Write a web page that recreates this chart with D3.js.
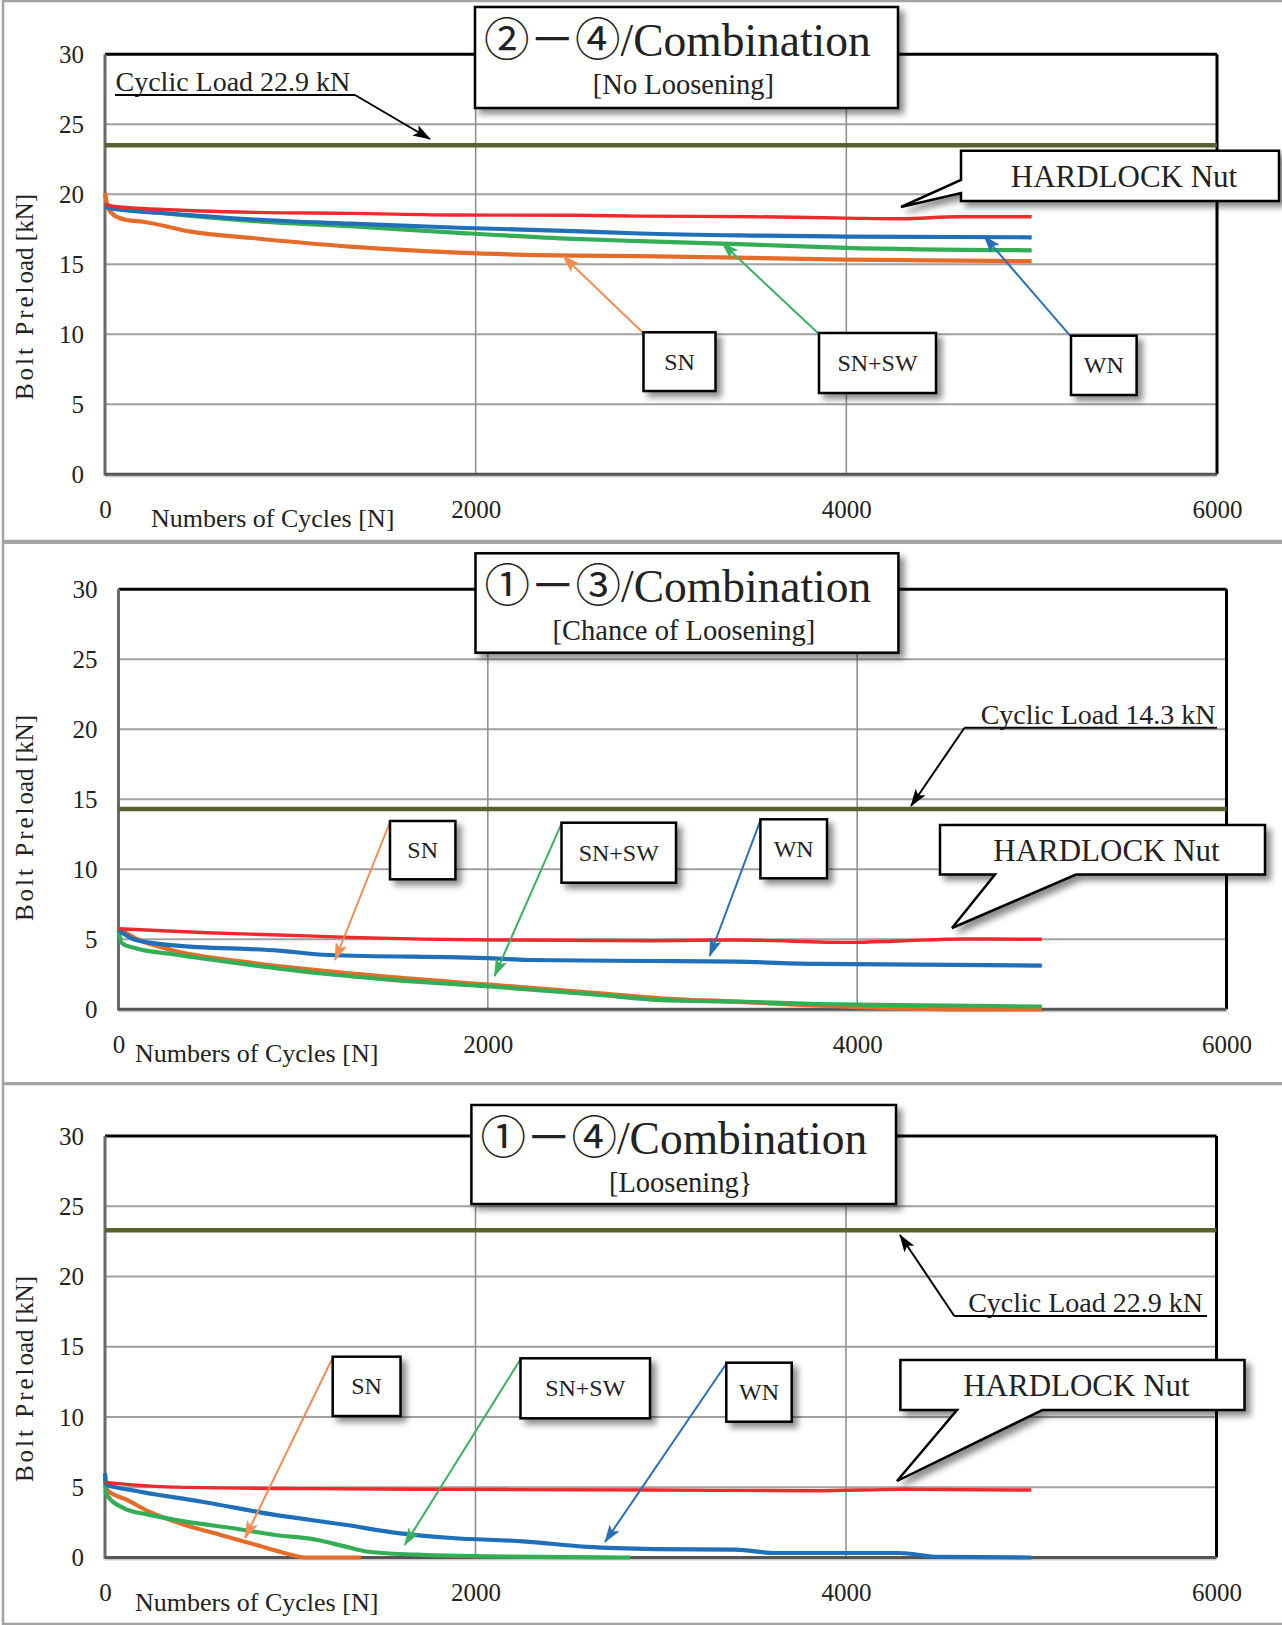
<!DOCTYPE html>
<html>
<head>
<meta charset="utf-8">
<style>
  body { margin: 0; background: #fff; }
  svg text { font-family: 'Liberation Serif', 'Noto Sans CJK JP', serif; fill: #222; }
</style>
</head>
<body>
<script src="https://d3js.org/d3.v7.min.js"></script>
<script>
// ---- data (cycles N, preload kN) ----
const xTicks = [0, 2000, 4000, 6000];
const yTicks = [0, 5, 10, 15, 20, 25, 30];
const seriesNames = ['SN', 'SN+SW', 'WN', 'HARDLOCK Nut'];

// panel 1 : ②-④ combination
const p1Load = 23.5;
const p1Hardlock = [[0,19.3],[40,19.15],[290,18.93],[806,18.71],[1323,18.64],[1908,18.52],[2528,18.5],[2888,18.44],[3500,18.4],[4000,18.3],[4300,18.25],[4600,18.4],[5000,18.4]];
const p1WN = [[0,19.1],[50,18.95],[290,18.68],[806,18.2],[1323,17.9],[1908,17.61],[2528,17.37],[2888,17.2],[3500,17.05],[4000,16.98],[5000,16.93]];
const p1SNSW = [[0,19.2],[50,19.05],[290,18.68],[806,18.08],[1323,17.72],[1908,17.25],[2528,16.82],[2888,16.65],[3500,16.4],[4000,16.18],[5000,16.0]];
const p1SN = [[0,20.1],[15,19.1],[49,18.5],[118,18.16],[204,18.04],[463,17.33],[806,16.86],[1323,16.26],[1908,15.83],[2528,15.62],[2888,15.58],[4000,15.34],[5000,15.22]];

// panel 2 : ①-③ combination
const p2Load = 14.3;
const p2Hardlock = [[0,5.75],[479,5.47],[867,5.31],[1254,5.14],[2028,4.95],[2898,4.9],[3343,4.95],[3963,4.78],[4228,4.88],[4583,5.02],[5000,5.0]];
const p2WN = [[0,5.66],[93,4.95],[287,4.59],[867,4.19],[1138,3.88],[2028,3.64],[2221,3.52],[2898,3.45],[3343,3.4],[3786,3.24],[5000,3.12]];
const p2SNSW = [[0,5.66],[20,4.71],[93,4.36],[287,3.95],[673,3.24],[1060,2.61],[1447,2.14],[2028,1.62],[2607,1.02],[2932,0.66],[3343,0.55],[3786,0.38],[4229,0.3],[5000,0.2]];
const p2SN = [[0,5.79],[93,5.07],[287,4.24],[673,3.4],[1060,2.81],[1447,2.33],[2028,1.74],[2607,1.14],[2932,0.79],[3343,0.55],[3786,0.26],[4228,0.07],[4600,0.0],[5000,0.0]];

// panel 3 : ①-④ combination
const p3Load = 23.3;
const p3Hardlock = [[0,5.35],[331,5.03],[1102,4.9],[1871,4.85],[2950,4.8],[3844,4.75],[4300,4.85],[5000,4.8]];
const p3WN = [[0,6.0],[5,5.2],[139,4.8],[524,3.97],[910,3.05],[1295,2.33],[1583,1.74],[1871,1.39],[2258,1.15],[2605,0.75],[2967,0.6],[3403,0.56],[3623,0.32],[4285,0.32],[4505,0.04],[5000,0.0]];
const p3SNSW = [[0,5.6],[8,4.5],[100,3.52],[235,3.05],[428,2.57],[717,2.03],[910,1.62],[1140,1.26],[1295,0.79],[1410,0.43],[1680,0.2],[2065,0.08],[2835,0.0]];
const p3SN = [[0,5.87],[12,4.8],[119,4.1],[235,3.28],[428,2.33],[620,1.62],[813,0.91],[967,0.32],[1083,0.0],[1381,0.0]];

const titles = ['②－④/Combination', '①－③/Combination', '①－④/Combination'];
const subtitles = ['[No Loosening]', '[Chance of Loosening]', '[Loosening}'];
const loadLabels = ['Cyclic Load 22.9 kN', 'Cyclic Load 14.3 kN', 'Cyclic Load 22.9 kN'];

// ---- styles ----
const FONT = "'Liberation Serif', 'Noto Sans CJK JP', serif";
const lineColors = { 'SN': '#e36c2a', 'SN+SW': '#34ad57', 'WN': '#1f6fb9', 'HARDLOCK Nut': '#ee2a2e' };
const arrowColors = { 'SN': '#f28c52', 'SN+SW': '#3bb05e', 'WN': '#2a6fb6', 'black': '#000' };
const olive = '#56622f';

const svg = d3.select('body').append('svg').attr('width', 1282).attr('height', 1625);
const defs = svg.append('defs');
const shadow = defs.append('filter').attr('id', 'shadow')
    .attr('x', '-10%').attr('y', '-10%').attr('width', '130%').attr('height', '140%');
shadow.append('feDropShadow').attr('dx', 5).attr('dy', 5).attr('stdDeviation', 3)
    .attr('flood-color', '#000').attr('flood-opacity', 0.45);

Object.entries(arrowColors).forEach(([k, c]) => {
    defs.append('marker').attr('id', 'ah-' + k.replace('+', ''))
        .attr('markerUnits', 'userSpaceOnUse')
        .attr('markerWidth', 18).attr('markerHeight', 12)
        .attr('refX', 17).attr('refY', 6).attr('orient', 'auto')
        .append('path').attr('d', 'M0,0 L18,6 L0,12 L4,6 Z').attr('fill', c);
});

const panels = [
  { frame: [3, 1, 1300, 540], left: 105, right: 1217, top: 54.3, bottom: 474.3,
    series: [p1SN, p1SNSW, p1WN, p1Hardlock], load: p1Load,
    titleBox: [475, 7, 898, 108], yTitleY: 297, xTitleX: 151,
    loadText: { x: 115.5, anchor: 'start', y: 91, ul: [115, 355, 95], from: [355, 95], to: [430, 139] },
    callout: { box: [961, 150.7, 1279, 201], side: 'left', base: [180, 193], tip: [901, 207] },
    labels: [
      { name: 'SN', box: [643.5, 332.3, 715.5, 391], to: [563, 256] },
      { name: 'SN+SW', box: [819, 333, 936, 393], to: [722, 243] },
      { name: 'WN', box: [1071, 335.7, 1136.6, 395], to: [984, 236] }
    ] },
  { frame: [3, 542.7, 1300, 540.6], left: 118.5, right: 1226.5, top: 589.3, bottom: 1009.3,
    series: [p2SN, p2SNSW, p2WN, p2Hardlock], load: p2Load,
    titleBox: [475.5, 553.3, 898.4, 652.7], yTitleY: 818, xTitleX: 135,
    loadText: { x: 1215.5, anchor: 'end', y: 724, ul: [964.5, 1217, 727.7], from: [964.5, 727.7], to: [911, 806] },
    callout: { box: [940, 825, 1265, 874.5], side: 'bottom', base: [995, 1076], tip: [952, 928] },
    labels: [
      { name: 'SN', box: [390, 821, 455.4, 879.3], to: [335, 960] },
      { name: 'SN+SW', box: [561.5, 822.7, 676, 882.7], to: [494.5, 976] },
      { name: 'WN', box: [760.4, 819.3, 827, 878.3], to: [709.7, 956] }
    ] },
  { frame: [3, 1084, 1300, 540], left: 105, right: 1216.5, top: 1136, bottom: 1557.5,
    series: [p3SN, p3SNSW, p3WN, p3Hardlock], load: p3Load,
    titleBox: [471.4, 1105, 896, 1204], yTitleY: 1379, xTitleX: 135,
    loadText: { x: 1203, anchor: 'end', y: 1311.5, ul: [954.3, 1207, 1316], from: [954.3, 1316], to: [900, 1235] },
    callout: { box: [900.4, 1360, 1244.5, 1410], side: 'bottom', base: [957, 1042.5], tip: [897, 1481] },
    labels: [
      { name: 'SN', box: [332.7, 1356.7, 400.5, 1416], to: [245, 1538] },
      { name: 'SN+SW', box: [520.5, 1358.3, 650, 1418.3], to: [404.7, 1545] },
      { name: 'WN', box: [726.3, 1362.7, 791.7, 1421.7], to: [605, 1542] }
    ] }
];

panels.forEach((p, i) => drawPanel(p, i));

function drawPanel(p, i) {
    const g = svg.append('g').style('font-family', FONT);
    const x = d3.scaleLinear().domain([0, 6000]).range([p.left, p.right]);
    const y = d3.scaleLinear().domain([0, 30]).range([p.bottom, p.top]);

    // outer frame of the chart picture
    g.append('rect')
        .attr('x', p.frame[0]).attr('y', p.frame[1])
        .attr('width', p.frame[2]).attr('height', p.frame[3])
        .attr('fill', 'none').attr('stroke', '#a3a3a3').attr('stroke-width', 2.5);

    // gridlines
    g.selectAll('.hgrid').data(yTicks.filter(v => v > 0 && v < 30)).enter()
        .append('line')
        .attr('x1', p.left).attr('x2', p.right)
        .attr('y1', d => y(d)).attr('y2', d => y(d))
        .attr('stroke', '#a0a0a0').attr('stroke-width', 2);
    g.selectAll('.vgrid').data(xTicks.filter(v => v > 0 && v < 6000)).enter()
        .append('line')
        .attr('x1', d => x(d)).attr('x2', d => x(d))
        .attr('y1', p.top).attr('y2', p.bottom)
        .attr('stroke', '#8c8c8c').attr('stroke-width', 1.5);

    // axes (labels only, frame drawn below)
    const ya = g.append('g').attr('transform', `translate(${p.left},0)`)
        .call(d3.axisLeft(y).tickValues(yTicks).tickSize(0).tickPadding(21));
    const xa = g.append('g').attr('transform', `translate(0,${p.bottom})`)
        .call(d3.axisBottom(x).tickValues(xTicks).tickFormat(d3.format('d')).tickSize(0).tickPadding(26));
    [ya, xa].forEach(a => {
        a.select('.domain').remove();
        a.attr('font-family', null).attr('font-size', null);
        a.selectAll('text').style('font-family', FONT).attr('font-size', 25).attr('fill', '#222');
    });

    // plot frame
    g.append('line').attr('x1', p.left).attr('x2', p.right).attr('y1', p.top).attr('y2', p.top)
        .attr('stroke', '#000').attr('stroke-width', 3);
    g.append('line').attr('x1', p.right).attr('x2', p.right).attr('y1', p.top).attr('y2', p.bottom)
        .attr('stroke', '#000').attr('stroke-width', 3);
    g.append('line').attr('x1', p.left).attr('x2', p.left).attr('y1', p.top).attr('y2', p.bottom + 1.5)
        .attr('stroke', '#6a6a6a').attr('stroke-width', 3);
    g.append('line').attr('x1', p.left).attr('x2', p.right).attr('y1', p.bottom + 2).attr('y2', p.bottom + 2)
        .attr('stroke', '#c8c8c8').attr('stroke-width', 2);
    g.append('line').attr('x1', p.left).attr('x2', p.right).attr('y1', p.bottom).attr('y2', p.bottom)
        .attr('stroke', '#555').attr('stroke-width', 3);

    // axis titles
    const yt = g.append('text')
        .attr('transform', `translate(33,${p.yTitleY}) rotate(-90)`)
        .attr('text-anchor', 'middle').attr('font-size', 25);
    yt.append('tspan').attr('letter-spacing', 3).text('Bolt Prel');
    yt.append('tspan').text('oad [kN]');
    g.append('text').attr('x', p.xTitleX).attr('y', p.bottom + 53)
        .attr('font-size', 26).text('Numbers of Cycles [N]');

    // cyclic load line
    g.append('line')
        .attr('x1', x(0)).attr('x2', x(6000))
        .attr('y1', y(p.load)).attr('y2', y(p.load))
        .attr('stroke', olive).attr('stroke-width', 4.5);

    // series
    const line = d3.line().x(d => x(d[0])).y(d => y(d[1])).curve(d3.curveMonotoneX);
    p.series.forEach((s, k) => {
        g.append('path').datum(s)
            .attr('d', line)
            .attr('fill', 'none')
            .attr('stroke', lineColors[seriesNames[k]])
            .attr('stroke-width', k === 3 ? 3.4 : 4.2)
            .attr('stroke-linejoin', 'round');
    });

    // title box
    const tb = p.titleBox;
    g.append('rect').attr('x', tb[0]).attr('y', tb[1])
        .attr('width', tb[2] - tb[0]).attr('height', tb[3] - tb[1])
        .attr('fill', '#fff').attr('stroke', '#000').attr('stroke-width', 2.5)
        .attr('filter', 'url(#shadow)');
    g.append('text').attr('x', tb[0] + 9).attr('y', tb[1] + 49)
        .attr('font-size', 45.5).text(titles[i]);
    g.append('text').attr('x', (tb[0] + tb[2]) / 2 - 3).attr('y', tb[1] + 87)
        .attr('text-anchor', 'middle').attr('font-size', 28.5).text(subtitles[i]);

    // cyclic load annotation
    const lt = p.loadText;
    g.append('text').attr('x', lt.x).attr('y', lt.y)
        .attr('text-anchor', lt.anchor).attr('font-size', 28).text(loadLabels[i]);
    g.append('line').attr('x1', lt.ul[0]).attr('x2', lt.ul[1]).attr('y1', lt.ul[2]).attr('y2', lt.ul[2])
        .attr('stroke', '#000').attr('stroke-width', 2);
    g.append('line').attr('x1', lt.from[0]).attr('y1', lt.from[1]).attr('x2', lt.to[0]).attr('y2', lt.to[1])
        .attr('stroke', '#000').attr('stroke-width', 2).attr('marker-end', 'url(#ah-black)');

    // HARDLOCK Nut callout
    const c = p.callout, b = c.box;
    let d;
    if (c.side === 'left') {
        d = `M${b[0]},${b[1]} H${b[2]} V${b[3]} H${b[0]} V${c.base[1]} L${c.tip[0]},${c.tip[1]} L${b[0]},${c.base[0]} Z`;
    } else {
        d = `M${b[0]},${b[1]} H${b[2]} V${b[3]} H${c.base[1]} L${c.tip[0]},${c.tip[1]} L${c.base[0]},${b[3]} H${b[0]} Z`;
    }
    g.append('path').attr('d', d).attr('fill', '#fff').attr('stroke', '#000')
        .attr('stroke-width', 2.5).attr('stroke-linejoin', 'miter').attr('filter', 'url(#shadow)');
    g.append('text').attr('x', (b[0] + b[2]) / 2 + 4).attr('y', b[1] + 36)
        .attr('text-anchor', 'middle').attr('font-size', 31).text(seriesNames[3]);

    // series label boxes with arrows
    p.labels.forEach(l => {
        const lb = l.box;
        g.append('line').attr('x1', lb[0]).attr('y1', lb[1] + 1).attr('x2', l.to[0]).attr('y2', l.to[1])
            .attr('stroke', arrowColors[l.name]).attr('stroke-width', 2)
            .attr('marker-end', `url(#ah-${l.name.replace('+', '')})`);
        g.append('rect').attr('x', lb[0]).attr('y', lb[1])
            .attr('width', lb[2] - lb[0]).attr('height', lb[3] - lb[1])
            .attr('fill', '#fff').attr('stroke', '#000').attr('stroke-width', 2.5)
            .attr('filter', 'url(#shadow)');
        g.append('text').attr('x', (lb[0] + lb[2]) / 2).attr('y', (lb[1] + lb[3]) / 2 + 8)
            .attr('text-anchor', 'middle').attr('font-size', 24).text(l.name);
    });
}
</script>
</body>
</html>
